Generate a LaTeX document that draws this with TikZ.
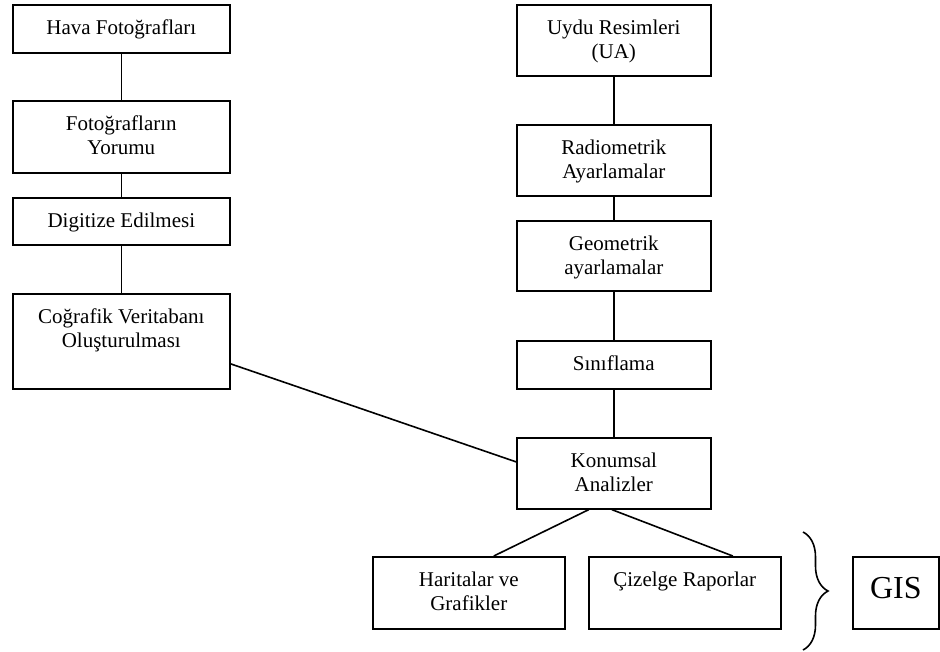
\documentclass[tikz,border=0pt]{standalone}
\usepackage{fontspec}
\setmainfont{Liberation Serif}
\usetikzlibrary{decorations.pathreplacing}

\newcommand{\kutumetin}[3]{\parbox[c][#2][t]{#1}{\centering\vspace*{9.9pt}\strut #3}}

\tikzset{
  kutu/.style={draw, line width=1.2pt, inner sep=0pt, anchor=north west},
  bag/.style={line width=1.2pt}
}

\begin{document}
\begin{tikzpicture}[x=0.75pt, y=-0.75pt, font=\fontsize{15.75pt}{18pt}\selectfont]
\useasboundingbox (0,0) rectangle (940,651);
% sol sutun
\node[kutu] (hava) at (12,4) {\kutumetin{162.75pt}{36pt}{Hava Fotoğrafları}};
\node[kutu] (yorum) at (12,100) {\kutumetin{162.75pt}{54pt}{Fotoğrafların\\Yorumu}};
\node[kutu] (digit) at (12,197) {\kutumetin{162.75pt}{35.25pt}{Digitize Edilmesi}};
\node[kutu] (cog) at (12,293) {\kutumetin{162.75pt}{71.25pt}{Coğrafik Veritabanı\\Oluşturulması}};
% sag sutun
\node[kutu] (uydu) at (516,4) {\kutumetin{145.5pt}{53.25pt}{Uydu Resimleri\\(UA)}};
\node[kutu] (radio) at (516,124) {\kutumetin{145.5pt}{53.25pt}{Radiometrik\\Ayarlamalar}};
\node[kutu] (geo) at (516,220) {\kutumetin{145.5pt}{52.5pt}{Geometrik\\ayarlamalar}};
\node[kutu] (sinif) at (516,340) {\kutumetin{145.5pt}{36pt}{Sınıflama}};
\node[kutu] (konum) at (516,437) {\kutumetin{145.5pt}{53.25pt}{Konumsal\\Analizler}};
% alt
\node[kutu] (harita) at (372,556) {\kutumetin{144pt}{54pt}{Haritalar ve\\Grafikler}};
\node[kutu] (cizelge) at (588,556) {\kutumetin{144pt}{54pt}{Çizelge Raporlar}};
\node[kutu] (gis) at (852,556) {\parbox[c][54pt][t]{64.5pt}{\centering\fontsize{24pt}{28pt}\selectfont\vspace*{11.9pt}\strut GIS}};

\draw[bag] (hava) -- (yorum);
\draw[bag] (yorum) -- (digit);
\draw[bag] (digit) -- (cog);
\draw[bag] (uydu) -- (radio);
\draw[bag] (radio) -- (geo);
\draw[bag] (geo) -- (sinif);
\draw[bag] (sinif) -- (konum);
\draw[bag] ([yshift=-16.9pt]cog.east) -- ([yshift=8.6pt]konum.west);
\draw[bag] ([xshift=-18.75pt]konum.south) -- ([xshift=18.75pt]harita.north);
\draw[bag] ([xshift=-1.5pt]konum.south) -- ([xshift=36pt]cizelge.north);

\coordinate (ust) at (803,532);
\coordinate (alt) at (803,650);
\draw[bag, decorate, decoration={brace, amplitude=18.75pt}] (ust) -- (alt);
\end{tikzpicture}
\end{document}
